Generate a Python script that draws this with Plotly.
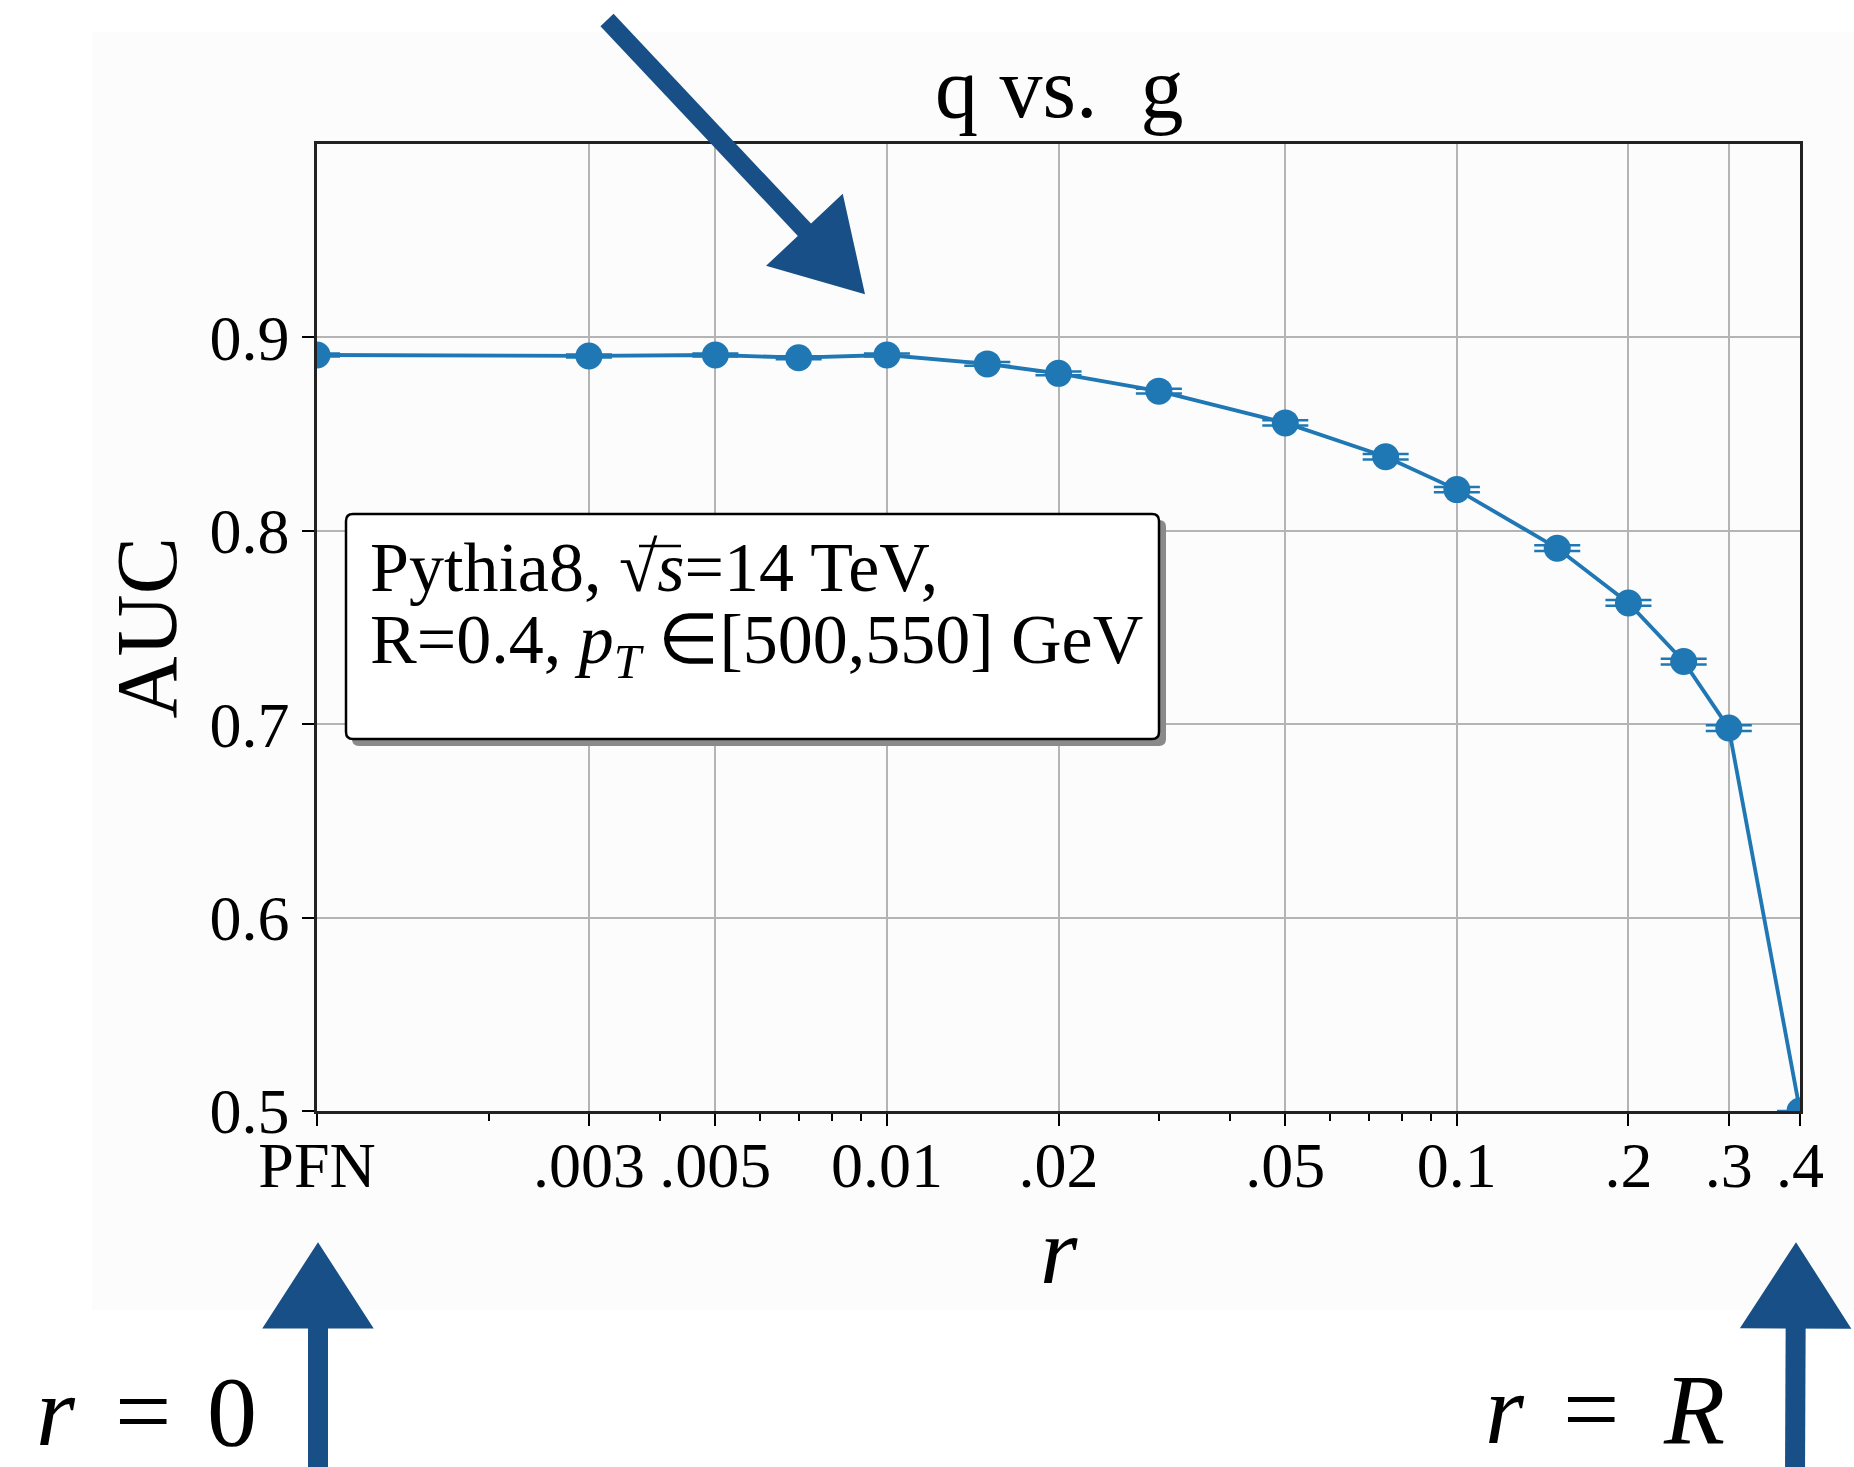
import plotly.graph_objects as go

# ---- data: AUC of the q vs. g classifier as a function of the radius r ----
r_vals = [0.001, 0.003, 0.005, 0.007, 0.01, 0.015, 0.02, 0.03,
          0.05, 0.075, 0.1, 0.15, 0.2, 0.25, 0.3, 0.4]
auc_vals = [0.8909, 0.8904, 0.8909, 0.8895, 0.8909, 0.8863, 0.8814, 0.8722,
            0.8558, 0.8383, 0.8213, 0.7910, 0.7627, 0.7324, 0.6980, 0.5000]
auc_err = [0.0008, 0.0008, 0.0008, 0.0008, 0.0008, 0.0010, 0.0010, 0.0012,
           0.0014, 0.0014, 0.0014, 0.0015, 0.0015, 0.0015, 0.0015, 0.0]

x_tick_vals = [0.001, 0.003, 0.005, 0.01, 0.02, 0.05, 0.1, 0.2, 0.3, 0.4]
x_tick_text = ["PFN", ".003", ".005", "0.01", ".02", ".05", "0.1", ".2", ".3", ".4"]
x_minor_vals = [0.002, 0.004, 0.006, 0.007, 0.008, 0.009,
                0.03, 0.04, 0.06, 0.07, 0.08, 0.09]
y_tick_vals = [0.5, 0.6, 0.7, 0.8, 0.9]
y_tick_text = ["0.5", "0.6", "0.7", "0.8", "0.9"]

# ---- page geometry (pixels) ----
W, H = 1854, 1467
L, R, T, B = 317, 1800, 144, 1111
SERIF = "Liberation Serif, Times New Roman, serif"
BLUE = "#1f77b4"
INK = "#174f86"


def px(x):
    return (x - L) / (R - L)


def py(y):
    return (B - y) / (B - T)


fig = go.Figure()
fig.add_trace(go.Scatter(
    x=r_vals, y=auc_vals, mode="lines+markers",
    line=dict(color=BLUE, width=3.8),
    marker=dict(color=BLUE, size=27),
    error_y=dict(type="data", array=auc_err, color=BLUE, thickness=2.5, width=23),
    showlegend=False,
))

shapes = []
# faint page tint behind the figure
shapes.append(dict(type="rect", xref="paper", yref="paper",
                   x0=px(92), x1=px(W), y0=py(1310), y1=py(32),
                   fillcolor="#fcfcfc", line=dict(width=0), layer="below"))


# info box with drop shadow and rounded corners
def rounded_path(x0, y0, x1, y1, rad):
    rx = rad / (R - L)
    ry = rad / (B - T)
    X0, X1 = px(x0), px(x1)
    Yt, Yb = py(y0), py(y1)
    return (f"M {X0+rx},{Yt} L {X1-rx},{Yt} Q {X1},{Yt} {X1},{Yt-ry} "
            f"L {X1},{Yb+ry} Q {X1},{Yb} {X1-rx},{Yb} "
            f"L {X0+rx},{Yb} Q {X0},{Yb} {X0},{Yb+ry} "
            f"L {X0},{Yt-ry} Q {X0},{Yt} {X0+rx},{Yt} Z")


shapes.append(dict(type="path", xref="paper", yref="paper",
                   path=rounded_path(352, 520, 1166, 746, 7),
                   fillcolor="#8a8a8a", line=dict(width=0), layer="above"))
shapes.append(dict(type="path", xref="paper", yref="paper",
                   path=rounded_path(346, 514, 1159, 739, 7),
                   fillcolor="white", line=dict(color="black", width=2.5), layer="above"))
# vinculum of the square root over s
shapes.append(dict(type="line", xref="paper", yref="paper",
                   x0=px(639), x1=px(681), y0=py(546), y1=py(546),
                   line=dict(color="black", width=2.5), layer="above"))


# hand-drawn style arrows
def arrow(tail, tip, base_half, head_len, width):
    (x0, y0), (x1, y1) = tail, tip
    dx, dy = x1 - x0, y1 - y0
    n = (dx * dx + dy * dy) ** 0.5
    ux, uy = dx / n, dy / n
    bx, by = x1 - ux * head_len, y1 - uy * head_len
    nx, ny = -uy, ux
    out = [dict(type="line", xref="paper", yref="paper",
                x0=px(x0), y0=py(y0), x1=px(bx + ux * 4), y1=py(by + uy * 4),
                line=dict(color=INK, width=width), layer="above")]
    p1 = (bx + nx * base_half, by + ny * base_half)
    p2 = (bx - nx * base_half, by - ny * base_half)
    out.append(dict(type="path", xref="paper", yref="paper",
                    path=(f"M {px(p1[0])},{py(p1[1])} L {px(x1)},{py(y1)} "
                          f"L {px(p2[0])},{py(p2[1])} Z"),
                    fillcolor=INK, line=dict(color=INK, width=3), layer="above"))
    return out


shapes += arrow((607, 20), (863, 292), 50, 84, 18)
shapes += arrow((318, 1480), (318, 1245), 53, 82, 20)
shapes += arrow((1795, 1480), (1796, 1245), 53, 82, 20)


def label(text, x, y, size, xanchor="center", yshift=-24):
    return dict(text=text, xref="paper", yref="paper", x=px(x), y=py(y),
                xanchor=xanchor, yanchor="bottom", showarrow=False, yshift=yshift,
                font=dict(family=SERIF, size=size, color="black"))


annotations = [
    dict(text="q vs.&nbsp; g", xref="paper", yref="paper", x=0.5, y=py(118),
         xanchor="center", yanchor="bottom", showarrow=False, yshift=-20,
         font=dict(family=SERIF, size=86, color="black")),
    dict(text="AUC", xref="paper", yref="paper", x=px(146), y=0.5,
         xanchor="center", yanchor="middle", textangle=-90, showarrow=False,
         font=dict(family=SERIF, size=86, color="black")),
    dict(text="<i>r</i>", xref="paper", yref="paper", x=0.5, y=py(1282),
         xanchor="center", yanchor="bottom", showarrow=False, yshift=-24,
         font=dict(family=SERIF, size=96, color="black")),
    dict(text="Pythia8, √<i>s</i>=14 TeV,",
         xref="paper", yref="paper", x=px(368), y=py(592),
         xanchor="left", yanchor="bottom", showarrow=False, yshift=-16,
         font=dict(family=SERIF, size=70, color="black")),
    dict(text="R=0.4, <i>p</i><sub><i>T</i></sub> ∈[500,550] GeV",
         xref="paper", yref="paper", x=px(368), y=py(675),
         xanchor="left", yanchor="bottom", showarrow=False, yshift=-16,
         font=dict(family=SERIF, size=70, color="black")),
    # r = 0 below the PFN end, r = R below the r = 0.4 end
    label("<i>r</i>", 56, 1445, 100),
    label("=", 143, 1445, 100),
    label("0", 232, 1445, 100),
    label("<i>r</i>", 1505, 1443, 100),
    label("=", 1591, 1443, 100),
    label("<i>R</i>", 1694, 1443, 100),
]

fig.update_layout(
    width=W, height=H,
    margin=dict(l=L, r=W - R, t=T, b=H - B, pad=0),
    paper_bgcolor="white", plot_bgcolor="rgba(0,0,0,0)",
    shapes=shapes, annotations=annotations,
    font=dict(family=SERIF, color="black"),
)
fig.update_xaxes(
    type="log", range=[-3, -0.39794],
    tickmode="array", tickvals=x_tick_vals, ticktext=x_tick_text,
    tickfont=dict(family=SERIF, size=64, color="black"),
    ticks="outside", ticklen=12, tickwidth=2, tickcolor="black",
    ticklabelstandoff=-16,
    showgrid=True, gridcolor="#b4b4b4", gridwidth=1.5,
    showline=True, linecolor="#222222", linewidth=2.5, mirror=True,
    minor=dict(tickmode="array", tickvals=x_minor_vals, ticks="outside",
               ticklen=7, tickwidth=1.5, tickcolor="black", showgrid=False),
    zeroline=False,
)
fig.update_yaxes(
    range=[0.5, 1.0],
    tickmode="array", tickvals=y_tick_vals, ticktext=y_tick_text,
    tickfont=dict(family=SERIF, size=64, color="black"),
    ticks="outside", ticklen=12, tickwidth=2, tickcolor="black",
    showgrid=True, gridcolor="#b4b4b4", gridwidth=1.5,
    showline=True, linecolor="#222222", linewidth=2.5, mirror=True,
    zeroline=False,
)

fig.write_html("out.html")
